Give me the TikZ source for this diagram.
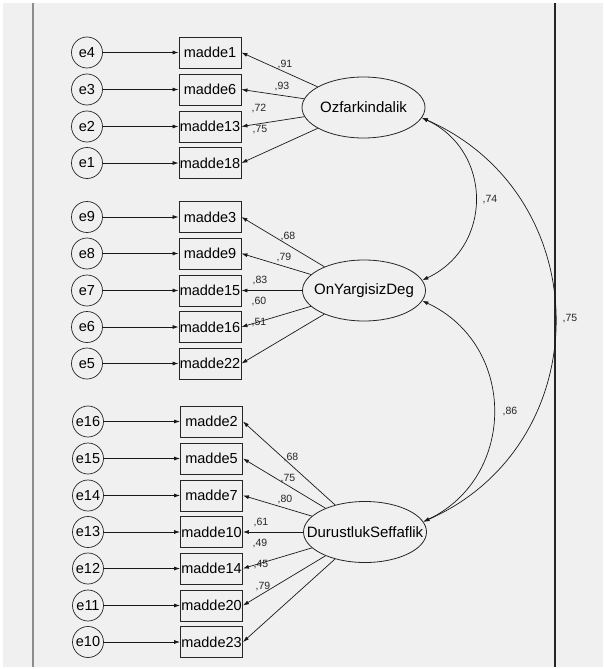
\documentclass[tikz,border=0pt]{standalone}
\usepackage{fontspec}
\setmainfont{Liberation Sans}
\usetikzlibrary{arrows.meta,shapes.geometric}
\definecolor{bgc}{HTML}{F0F0F0}
\begin{document}
\begin{tikzpicture}[x=1pt,y=-1pt,
  obs/.style={draw=black!85, line width=0.9pt, minimum width=62pt, minimum height=31pt, inner sep=0pt, font=\fontsize{14.5}{15}\selectfont},
  err/.style={draw=black!85, circle, line width=0.7pt, minimum size=31pt, inner sep=0pt, font=\fontsize{14.5}{15}\selectfont},
  lat/.style={draw=black!85, ellipse, line width=0.8pt, minimum width=123pt, minimum height=61pt, inner sep=0pt},
  lattext/.style={inner sep=0pt, font=\fontsize{15}{16}\selectfont},
  pth/.style={-{Latex[length=6pt,width=4pt]}, line width=0.7pt, black!90},
  cov/.style={{Latex[length=6pt,width=4pt]}-{Latex[length=6pt,width=4pt]}, line width=0.7pt, black!90},
  coef/.style={inner sep=0pt, font=\fontsize{10.5}{11}\selectfont, black!85}]
\useasboundingbox (0,0) rectangle (603,669);
\fill[white] (0,0) rectangle (603,669);
\fill[bgc] (3,3) rectangle (603,667);
\draw[line width=2pt, black!45] (33,3) -- (33,667);
\draw[line width=1.5pt, black!85] (555,3) -- (555,667);

% latent variables
\node[lat] (F1) at (363.5,107.5) {};
\node[lattext] (F1t) at (F1) {Ozfarkindalik};
\node[lat] (F2) at (364,290.5) {};
\node[lattext] (F2t) at (F2) {OnYargisizDeg};
\node[lat] (F3) at (365,532) {};
\node[lattext] (F3t) at (F3) {DurustlukSeffaflik};

% group 1
\foreach \e/\m/\y in {e4/madde1/52.5, e3/madde6/89.5, e2/madde13/126.5, e1/madde18/163}{
  \node[err] (\e) at (87,\y) {\e};
  \node[obs] (\m) at (210,\y) {\m};
  \draw[pth] (\e) -- (\m);
  \draw[pth] (F1) -- (\m.east);
}
% group 2
\foreach \e/\m/\y in {e9/madde3/217, e8/madde9/253.5, e7/madde15/290.5, e6/madde16/327, e5/madde22/363.5}{
  \node[err] (\e) at (87,\y) {\e};
  \node[obs] (\m) at (210,\y) {\m};
  \draw[pth] (\e) -- (\m);
  \draw[pth] (F2) -- (\m.east);
}
% group 3
\foreach \e/\m/\y in {e16/madde2/421.5, e15/madde5/458.5, e14/madde7/495.5, e13/madde10/532, e12/madde14/568.5, e11/madde20/605.5, e10/madde23/642}{
  \node[err] (\e) at (88,\y) {\e};
  \node[obs] (\m) at (211.5,\y) {\m};
  \draw[pth] (\e) -- (\m);
  \draw[pth] (F3) -- (\m.east);
}

% loadings
\node[coef] (c1) at (285,65) {,91};
\node[coef] (c2) at (282,87) {,93};
\node[coef] (c3) at (259,109) {,72};
\node[coef] (c4) at (260,130) {,75};
\node[coef] (c5) at (288,237) {,68};
\node[coef] (c6) at (284,258) {,79};
\node[coef] (c7) at (260,281) {,83};
\node[coef] (c8) at (259,302) {,60};
\node[coef] (c9) at (259,323) {,51};
\node[coef] (c10) at (291,458) {,68};
\node[coef] (c11) at (288,479) {,75};
\node[coef] (c12) at (285,500) {,80};
\node[coef] (c13) at (261,522) {,61};
\node[coef] (c14) at (260,543) {,49};
\node[coef] (c15) at (261,565) {,45};
\node[coef] (c16) at (263,586) {,79};

% covariances
\draw[cov] (F1.-10) .. controls (493,151) and (493,247) .. (F2.10);
\draw[cov] (F2.-10) .. controls (517,345) and (517,477) .. (F3.10);
\draw[cov] (F1.-10) .. controls (599,196) and (599,444) .. (F3.10);
\node[coef] (r1) at (490,200) {,74};
\node[coef] (r2) at (510,412) {,86};
\node[coef] (r3) at (570,319) {,75};
\end{tikzpicture}
\end{document}
